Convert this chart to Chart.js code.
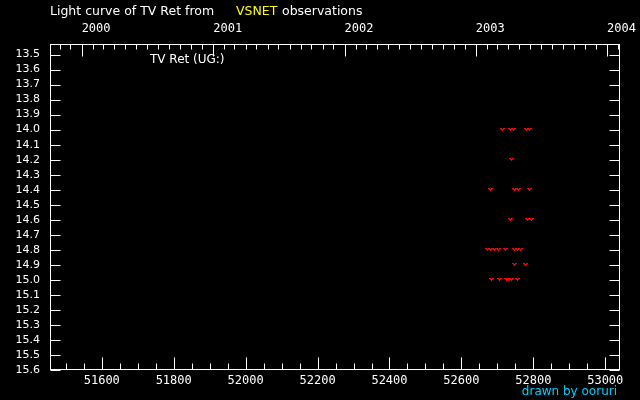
<!DOCTYPE html>
<html>
<head>
<meta charset="utf-8">
<script src="https://cdn.jsdelivr.net/npm/chart.js@4.4.1/dist/chart.umd.min.js"></script>
<style>
    html, body { margin: 0; padding: 0; background: #000; }
</style>
</head>
<body>
<canvas id="lc" width="640" height="400"></canvas>
<script>
// observations (MJD, visual mag, all "fainter than")
const obsMjd = [52713, 52736, 52744, 52780, 52788,
                52740,
                52680, 52749, 52760, 52788,
                52737, 52783, 52794,
                52672, 52680, 52691, 52702, 52722, 52747, 52755, 52763,
                52749, 52777,
                52683, 52705, 52724, 52730, 52738, 52755];
const obsMag = [14.0, 14.0, 14.0, 14.0, 14.0,
                14.2,
                14.4, 14.4, 14.4, 14.4,
                14.6, 14.6, 14.6,
                14.8, 14.8, 14.8, 14.8, 14.8, 14.8, 14.8, 14.8,
                14.9, 14.9,
                15.0, 15.0, 15.0, 15.0, 15.0, 15.0];

const mjdTicks = [51600, 51800, 52000, 52200, 52400, 52600, 52800, 53000];
const magTicks = [13.5, 13.6, 13.7, 13.8, 13.9, 14.0, 14.1, 14.2, 14.3, 14.4, 14.5,
                  14.6, 14.7, 14.8, 14.9, 15.0, 15.1, 15.2, 15.3, 15.4, 15.5, 15.6];
const yearTicks = [2000, 2001, 2002, 2003, 2004];

const mjdMin = 51456, mjdMax = 53041;

function toMjd(y, m) {
    return Date.UTC(y, m, 1) / 86400000 + 40587;
}

// "v" marker for upper limits
const vMark = document.createElement("canvas");
vMark.width = 5;
vMark.height = 3;
(function () {
    const c = vMark.getContext("2d");
    c.fillStyle = "#ff0000";
    [[0, 0], [1, 0], [3, 0], [4, 0], [1, 1], [2, 1], [3, 1], [2, 2]]
        .forEach(p => c.fillRect(p[0], p[1], 1, 1));
})();

// no extra room for labels hanging over the ends
function fixSize(w, h) {
    return s => {
        if (w) s.width = w;
        if (h) s.height = h;
        s.paddingLeft = 0; s.paddingRight = 0;
        s.paddingTop = 0; s.paddingBottom = 0;
    };
}

const frame = {
    id: "frame",
    beforeDraw(chart) {
        const ctx = chart.ctx;
        ctx.save();
        ctx.fillStyle = "#000";
        ctx.fillRect(0, 0, chart.width, chart.height);
        ctx.restore();
    },
    beforeDatasetsDraw(chart) {
        chart.ctx.imageSmoothingEnabled = false;
    },
    afterDraw(chart) {
        const ctx = chart.ctx;
        const a = chart.chartArea;
        const sx = chart.scales.x, sy = chart.scales.y;
        const L = Math.round(a.left) + 0.5, R = Math.round(a.right) - 0.5;
        const T = Math.round(a.top) + 0.5, B = Math.round(a.bottom) - 0.5;
        ctx.save();
        ctx.strokeStyle = "#fff";
        ctx.lineWidth = 1;
        ctx.strokeRect(L, T, R - L, B - T);
        ctx.beginPath();
        // bottom ticks
        for (let v = 51500; v <= mjdMax; v += 50) {
            const px = Math.round(sx.getPixelForValue(v)) + 0.5;
            const len = v % 200 === 0 ? 12 : 6;
            ctx.moveTo(px, B); ctx.lineTo(px, B - len);
        }
        // top ticks, years and months
        for (let y = 1999; y <= 2004; y++) {
            for (let m = 0; m < 12; m++) {
                const v = toMjd(y, m);
                if (v < mjdMin || v > mjdMax) continue;
                const px = Math.round(sx.getPixelForValue(v)) + 0.5;
                const len = m === 0 ? 12 : 5;
                ctx.moveTo(px, T); ctx.lineTo(px, T + len);
            }
        }
        // magnitude ticks, both sides
        magTicks.forEach(v => {
            const py = Math.round(sy.getPixelForValue(v)) + 0.5;
            ctx.moveTo(L, py); ctx.lineTo(L + 10, py);
            ctx.moveTo(R, py); ctx.lineTo(R - 10, py);
        });
        ctx.stroke();

        ctx.font = "12.5px 'DejaVu Sans'";
        ctx.textBaseline = "middle";
        ctx.textAlign = "left";
        ctx.fillStyle = "#fff";
        ctx.fillText("Light curve of TV Ret from", 50, 12);
        ctx.fillStyle = "#ffff00";
        ctx.fillText("VSNET", 236, 12);
        ctx.fillStyle = "#fff";
        ctx.fillText("observations", 282, 12);
        ctx.font = "12px 'DejaVu Sans'";
        ctx.fillText("TV Ret (UG:)", 150, 60);
        ctx.fillStyle = "#00d0ff";
        ctx.textAlign = "right";
        ctx.fillText("drawn by ooruri", 617, 392);
        ctx.restore();
    }
};

const tickFont = { family: "'DejaVu Sans Mono'", size: 12 };

new Chart(document.getElementById("lc"), {
    type: "scatter",
    data: {
        datasets: [{
            data: obsMjd.map((x, i) => ({ x: x, y: obsMag[i] })),
            pointStyle: vMark,
            pointRadius: 3,
            showLine: false
        }]
    },
    options: {
        responsive: false,
        animation: false,
        devicePixelRatio: 1,
        layout: { padding: { left: 0, right: 20, top: 0, bottom: 0 } },
        plugins: { legend: { display: false }, tooltip: { enabled: false } },
        scales: {
            x: {
                type: "linear",
                position: "bottom",
                min: mjdMin,
                max: mjdMax,
                afterBuildTicks: s => { s.ticks = mjdTicks.map(v => ({ value: v })); },
                afterFit: fixSize(0, 30),
                grid: { display: false, drawTicks: false },
                border: { display: false },
                ticks: { color: "#fff", font: tickFont, padding: 4, maxRotation: 0, autoSkip: false,
                         callback: v => String(v) }
            },
            x2: {
                type: "linear",
                position: "top",
                min: mjdMin,
                max: mjdMax,
                afterBuildTicks: s => { s.ticks = yearTicks.map(y => ({ value: toMjd(y, 0) })); },
                afterFit: fixSize(0, 44),
                grid: { display: false, drawTicks: false },
                border: { display: false },
                ticks: { color: "#fff", font: tickFont, padding: 8, maxRotation: 0, autoSkip: false,
                         align: "start",
                         callback: v => String(yearTicks.find(y => toMjd(y, 0) === v)) }
            },
            y: {
                type: "linear",
                reverse: true,
                min: 13.43,
                max: 15.6,
                afterBuildTicks: s => { s.ticks = magTicks.map(v => ({ value: v })); },
                afterFit: fixSize(50, 0),
                grid: { display: false, drawTicks: false },
                border: { display: false },
                ticks: { color: "#fff", font: { family: "'DejaVu Sans'", size: 11 }, padding: 10,
                         autoSkip: false, callback: v => v.toFixed(1) }
            }
        }
    },
    plugins: [frame]
});
</script>
</body>
</html>
